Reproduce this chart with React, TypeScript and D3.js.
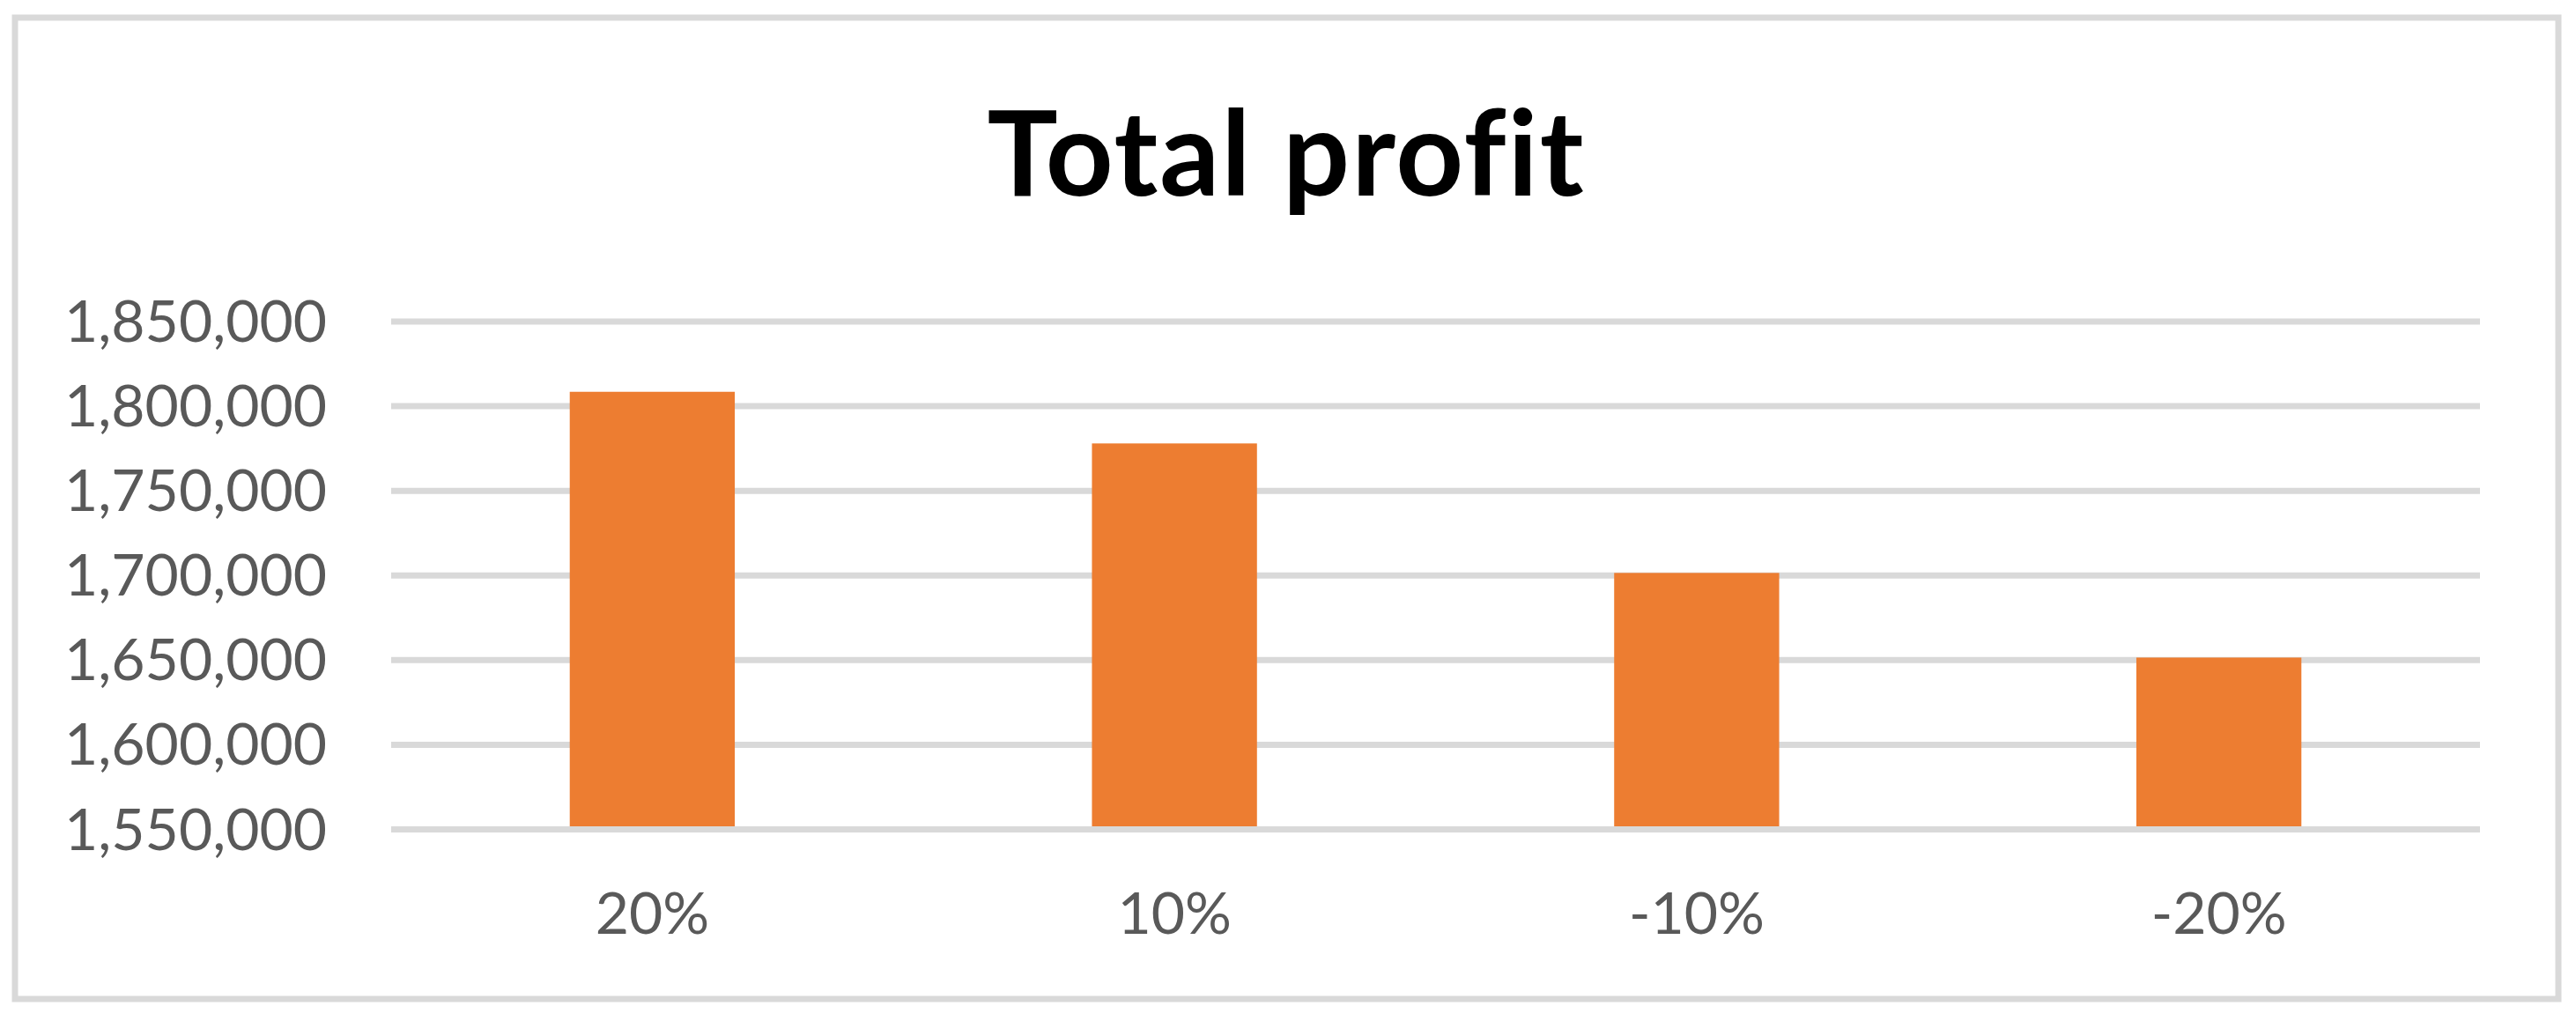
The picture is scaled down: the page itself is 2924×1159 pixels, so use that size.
import React from "react";
import * as d3 from "d3";

const categories = ["20%", "10%", "-10%", "-20%"];
const totalProfit = [1808500, 1778000, 1701500, 1651500];
const yTicks = [1550000, 1600000, 1650000, 1700000, 1750000, 1800000, 1850000];
const chartTitle = "Total profit";

const W = 2924;
const H = 1159;
const plot = { left: 444, right: 2815, top: 365, bottom: 941.5 };

export default function App() {
  const x = d3
    .scaleBand<string>()
    .domain(categories)
    .range([plot.left, plot.right])
    .paddingInner(0.684)
    .paddingOuter(0.342);
  const y = d3
    .scaleLinear()
    .domain([yTicks[0], yTicks[yTicks.length - 1]])
    .range([plot.bottom, plot.top]);
  const fmt = d3.format(",");
  const font = "Lato, 'Open Sans', sans-serif";

  return (
    <svg
      width={W}
      height={H}
      style={{ position: "absolute", left: 0, top: 0, background: "#fff" }}
    >
      <rect x={0} y={0} width={W} height={H} fill="#fff" />
      <rect
        x={17}
        y={20}
        width={2887}
        height={1114}
        fill="#fff"
        stroke="#D9D9D9"
        strokeWidth={7}
      />
      <text
        x={1460}
        y={222}
        textAnchor="middle"
        fontFamily={font}
        fontWeight={700}
        fontSize={134}
        letterSpacing={2}
        style={{ fontVariantLigatures: "none" }}
        fill="#000"
      >
        {chartTitle}
      </text>
      {yTicks.slice(1).map((t) => (
        <line
          key={t}
          x1={plot.left}
          x2={plot.right}
          y1={y(t)}
          y2={y(t)}
          stroke="#D9D9D9"
          strokeWidth={7}
        />
      ))}
      {yTicks.map((t) => (
        <text
          key={"l" + t}
          x={371}
          y={y(t) + 23}
          textAnchor="end"
          fontFamily={font}
          fontSize={66}
          fill="#595959"
        >
          {fmt(t)}
        </text>
      ))}
      {categories.map((c, i) => (
        <rect
          key={c}
          x={x(c)}
          width={x.bandwidth()}
          y={y(totalProfit[i])}
          height={y(yTicks[0]) - y(totalProfit[i])}
          fill="#ED7D31"
        />
      ))}
      <line
        x1={plot.left}
        x2={plot.right}
        y1={y(yTicks[0])}
        y2={y(yTicks[0])}
        stroke="#D9D9D9"
        strokeWidth={7}
      />
      {categories.map((c) => (
        <text
          key={"x" + c}
          x={(x(c) as number) + x.bandwidth() / 2}
          y={1060}
          textAnchor="middle"
          fontFamily={font}
          fontSize={66}
          fill="#595959"
        >
          {c}
        </text>
      ))}
    </svg>
  );
}
